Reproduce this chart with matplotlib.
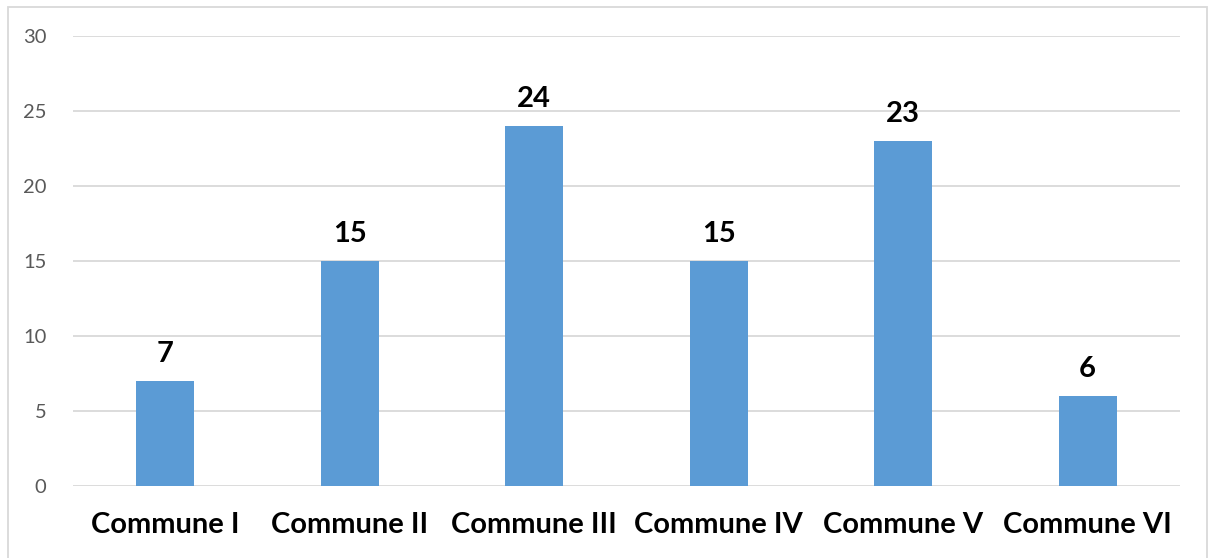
import matplotlib.pyplot as plt
from matplotlib.patches import Rectangle

communes = ['Commune I', 'Commune II', 'Commune III', 'Commune IV', 'Commune V', 'Commune VI']
counts = [7, 15, 24, 15, 23, 6]
yticks = [0, 5, 10, 15, 20, 25, 30]

plt.rcParams['font.family'] = ['Lato', 'DejaVu Sans']

fig = plt.figure(figsize=(12.11, 5.58), dpi=100)
ax = fig.add_axes([73 / 1211, 1 - 486 / 558, (1180 - 73) / 1211, 450 / 558])

# outer chart border
fig.patches.append(Rectangle((8 / 1211, -0.01), 1199 / 1211, 1 - 7 / 558 + 0.01,
                             transform=fig.transFigure, fill=False,
                             edgecolor='#D9D9D9', linewidth=1.3))

x = range(len(communes))
bars = ax.bar(x, counts, width=0.315, color='#5B9BD5', zorder=3)

for b, v in zip(bars, counts):
    ax.annotate(str(v), (b.get_x() + b.get_width() / 2, v),
                xytext=(0, 10), textcoords='offset points',
                ha='center', va='bottom', fontsize=21, fontweight='bold', color='black')

ax.set_xlim(-0.5, len(communes) - 0.5)
ax.set_ylim(0, 30)
ax.set_yticks(yticks)
ax.set_xticks(list(x))
ax.set_xticklabels(communes, fontsize=21, fontweight='bold')
ax.tick_params(axis='x', length=0, pad=19)
ax.tick_params(axis='y', length=0, pad=19, labelsize=14.5, labelcolor='#595959')
ax.grid(axis='y', color='#D9D9D9', linewidth=1.3, zorder=0)
for s in ax.spines.values():
    s.set_visible(False)

fig.savefig('out.png', dpi=100)
